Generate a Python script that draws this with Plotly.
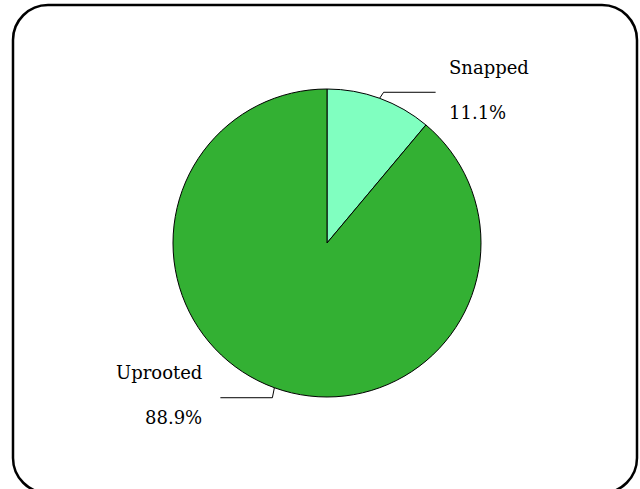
import math
import plotly.graph_objects as go

# Share of damaged trees by failure type
labels = ["Snapped", "Uprooted"]
values = [11.1, 88.9]
colors = ["#80FFC0", "#33B033"]

W, H = 640, 489
CX, CY, R = 327, 243, 154  # pie centre / radius in pixels


def px(x):
    return x / W


def py(y):
    return 1 - y / H


fig = go.Figure()
fig.add_trace(go.Pie(
    labels=labels,
    values=values,
    sort=False,
    direction="clockwise",
    rotation=0,
    marker=dict(colors=colors, line=dict(color="black", width=1)),
    textinfo="none",
    hoverinfo="label+percent",
    showlegend=False,
    domain=dict(x=[px(CX - R), px(CX + R)], y=[py(CY + R), py(CY - R)]),
))

font = dict(family="DejaVu Serif", size=18, color="black")
shapes = []
annotations = []
total = sum(values)
start = 0.0
for lab, val in zip(labels, values):
    frac = val / total
    mid = (start + frac / 2) * 2 * math.pi
    start += frac
    ex = CX + R * math.sin(mid)
    ey = CY - R * math.cos(mid)
    right = math.sin(mid) >= 0
    # short elbow out of the rim, then a horizontal leader
    if right:
        kx, ky = ex + 4, ey - 6
        hx = kx + 52
        tx, anchor = hx + 11, "left"
    else:
        kx, ky = ex - 2, ey + 10
        hx = kx - 52
        tx, anchor = hx - 16, "right"
    shapes.append(dict(type="line", xref="paper", yref="paper",
                       x0=px(ex), y0=py(ey), x1=px(kx), y1=py(ky),
                       line=dict(color="black", width=1)))
    shapes.append(dict(type="line", xref="paper", yref="paper",
                       x0=px(kx), y0=py(ky), x1=px(hx), y1=py(ky),
                       line=dict(color="black", width=1)))
    annotations.append(dict(text=lab, x=px(tx), y=py(ky - 25), xref="paper", yref="paper",
                            xanchor=anchor, yanchor="middle", showarrow=False, font=font))
    annotations.append(dict(text=f"{val:.1f}%", x=px(tx), y=py(ky + 20), xref="paper",
                            yref="paper", xanchor=anchor, yanchor="middle",
                            showarrow=False, font=font))

# Rounded frame around the chart area
L, T, Rt, B, rad = 13, 5, 637, 493, 35
k = 0.5523 * rad


def P(x, y):
    return f"{px(x):.5f},{py(y):.5f}"


path = (
    f"M {P(L, T + rad)} C {P(L, T + rad - k)} {P(L + rad - k, T)} {P(L + rad, T)} "
    f"L {P(Rt - rad, T)} C {P(Rt - rad + k, T)} {P(Rt, T + rad - k)} {P(Rt, T + rad)} "
    f"L {P(Rt, B - rad)} C {P(Rt, B - rad + k)} {P(Rt - rad + k, B)} {P(Rt - rad, B)} "
    f"L {P(L + rad, B)} C {P(L + rad - k, B)} {P(L, B - rad + k)} {P(L, B - rad)} Z"
)
shapes.append(dict(type="path", xref="paper", yref="paper", path=path,
                   line=dict(color="black", width=2.5), layer="above"))

fig.update_layout(
    width=W, height=H,
    margin=dict(l=0, r=0, t=0, b=0),
    paper_bgcolor="white",
    plot_bgcolor="white",
    shapes=shapes,
    annotations=annotations,
)

fig.write_html("out.html")
